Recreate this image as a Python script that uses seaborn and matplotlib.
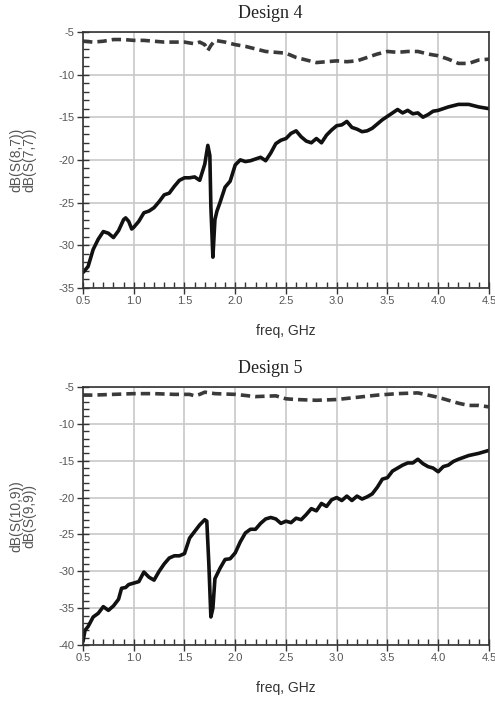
import numpy as np
import pandas as pd
import matplotlib
matplotlib.use("Agg")
import matplotlib.pyplot as plt
from matplotlib.ticker import MultipleLocator, FormatStrFormatter
import seaborn as sns

# Design 4: S(8,7) solid, S(7,7) dashed
d4_freq_s87 = [0.5, 0.55, 0.6, 0.65, 0.7, 0.75, 0.8, 0.85, 0.9, 0.92, 0.95, 0.98, 1.0, 1.05, 1.1,
               1.15, 1.2, 1.25, 1.3, 1.35, 1.4, 1.45, 1.5, 1.55, 1.6, 1.65, 1.7, 1.73, 1.75, 1.76,
               1.78, 1.8, 1.82, 1.85, 1.9, 1.95, 2.0, 2.05, 2.1, 2.15, 2.2, 2.25, 2.3, 2.35, 2.4,
               2.45, 2.5, 2.55, 2.6, 2.65, 2.7, 2.75, 2.8, 2.85, 2.9, 2.95, 3.0, 3.05, 3.1, 3.15,
               3.2, 3.25, 3.3, 3.35, 3.4, 3.45, 3.5, 3.55, 3.6, 3.65, 3.7, 3.75, 3.8, 3.85, 3.9,
               3.95, 4.0, 4.1, 4.2, 4.3, 4.4, 4.5]
d4_s87 = [-33.2, -32.5, -30.5, -29.3, -28.4, -28.6, -29.1, -28.3, -27.0, -26.8, -27.2, -28.1, -27.9,
          -27.2, -26.2, -26.0, -25.6, -24.9, -24.1, -23.9, -23.1, -22.4, -22.1, -22.1, -22.0, -22.4,
          -20.5, -18.3, -19.5, -25.5, -31.4, -27.0, -26.0, -25.0, -23.2, -22.5, -20.6, -20.0, -20.2,
          -20.1, -19.9, -19.7, -20.1, -19.2, -18.1, -17.7, -17.5, -16.9, -16.6, -17.3, -17.8, -18.0,
          -17.5, -18.0, -17.1, -16.5, -16.0, -15.9, -15.5, -16.2, -16.4, -16.7, -16.6, -16.3, -15.8,
          -15.3, -14.9, -14.5, -14.1, -14.5, -14.2, -14.6, -14.5, -15.0, -14.7, -14.3, -14.2, -13.8,
          -13.5, -13.5, -13.8, -14.0]
d4_freq_s77 = [0.5, 0.6, 0.7, 0.8, 0.9, 1.0, 1.1, 1.2, 1.3, 1.4, 1.5, 1.6, 1.65, 1.7, 1.73, 1.76,
               1.8, 1.9, 2.0, 2.1, 2.2, 2.3, 2.4, 2.5, 2.6, 2.7, 2.8, 2.9, 3.0, 3.1, 3.2, 3.3, 3.4,
               3.5, 3.6, 3.7, 3.8, 3.9, 4.0, 4.1, 4.2, 4.3, 4.4, 4.5]
d4_s77 = [-6.1, -6.2, -6.1, -5.9, -5.9, -6.0, -6.0, -6.1, -6.2, -6.2, -6.2, -6.4, -6.2, -6.5, -7.2,
          -6.6, -6.0, -6.2, -6.5, -6.7, -7.0, -7.3, -7.4, -7.5, -8.0, -8.3, -8.6, -8.5, -8.4, -8.5,
          -8.4, -8.0, -7.6, -7.3, -7.4, -7.3, -7.3, -7.6, -7.8, -8.2, -8.7, -8.7, -8.3, -8.2]

# Design 5: S(10,9) solid, S(9,9) dashed
d5_freq_s109 = [0.5, 0.52, 0.55, 0.6, 0.65, 0.7, 0.75, 0.8, 0.85, 0.88, 0.92, 0.95, 1.0, 1.05, 1.1,
                1.15, 1.2, 1.25, 1.3, 1.35, 1.4, 1.45, 1.5, 1.55, 1.6, 1.65, 1.7, 1.72, 1.74, 1.76,
                1.78, 1.8, 1.85, 1.9, 1.95, 2.0, 2.05, 2.1, 2.15, 2.2, 2.25, 2.3, 2.35, 2.4, 2.45,
                2.5, 2.55, 2.6, 2.65, 2.7, 2.75, 2.8, 2.85, 2.9, 2.95, 3.0, 3.05, 3.1, 3.15, 3.2,
                3.25, 3.3, 3.35, 3.4, 3.45, 3.5, 3.55, 3.6, 3.65, 3.7, 3.75, 3.8, 3.85, 3.9, 3.95,
                4.0, 4.05, 4.1, 4.15, 4.2, 4.3, 4.4, 4.45, 4.5]
d5_s109 = [-39.5, -38.0, -37.5, -36.2, -35.7, -34.8, -35.3, -34.7, -33.8, -32.3, -32.2, -31.8, -31.6,
           -31.4, -30.1, -30.8, -31.2, -30.0, -29.0, -28.2, -27.9, -27.9, -27.6, -25.5, -24.6, -23.7,
           -23.0, -23.2, -29.0, -36.2, -35.0, -31.0, -29.6, -28.4, -28.3, -27.5, -26.0, -24.8, -24.3,
           -24.3, -23.5, -22.9, -22.7, -22.9, -23.5, -23.2, -23.4, -22.8, -23.0, -22.3, -21.5, -21.8,
           -20.8, -21.2, -20.3, -20.0, -20.4, -19.8, -20.4, -19.8, -20.2, -19.9, -19.5, -18.6, -17.5,
           -17.3, -16.4, -16.0, -15.6, -15.3, -15.3, -14.8, -15.4, -15.8, -16.0, -16.5, -15.8, -15.6,
           -15.1, -14.8, -14.3, -14.0, -13.8, -13.6]
d5_freq_s99 = [0.5, 0.6, 0.8, 1.0, 1.2, 1.4, 1.55, 1.6, 1.65, 1.7, 1.8, 2.0, 2.2, 2.4, 2.5, 2.6,
               2.8, 3.0, 3.2, 3.4, 3.6, 3.8, 3.9, 4.0, 4.1, 4.2, 4.3, 4.4, 4.5]
d5_s99 = [-6.1, -6.1, -6.0, -5.9, -5.9, -6.0, -6.0, -6.2, -6.0, -5.7, -5.9, -6.0, -6.3, -6.2, -6.6,
          -6.7, -6.8, -6.7, -6.4, -6.1, -5.9, -5.8, -6.1, -6.4, -6.8, -7.2, -7.5, -7.5, -7.7]

panels = [
    ("Design 4", d4_freq_s87, d4_s87, d4_freq_s77, d4_s77, "dB(S(8,7))\ndB(S(7,7))", -35, [0.5905, 0.3642]),
    ("Design 5", d5_freq_s109, d5_s109, d5_freq_s99, d5_s99, "dB(S(10,9))\ndB(S(9,9))", -40, [0.0825, 0.367]),
]

sns.set_style("white")
plt.rcParams["font.family"] = ["Liberation Sans", "DejaVu Sans"]
plt.rcParams["axes.unicode_minus"] = False

fig = plt.figure(figsize=(4.95, 7.03), dpi=100)

for title, fs, ys, fr, yr, ylab, ymin, (bottom, height) in panels:
    ax = fig.add_axes([0.1677, bottom, 0.820, height])
    sns.lineplot(x=fs, y=ys, ax=ax, color="#111111", lw=2.6, sort=False)
    sns.lineplot(x=fr, y=yr, ax=ax, color="#3a3a3a", lw=2.6, sort=False, linestyle=(0, (2.6, 1.4)))
    ax.set_xlim(0.5, 4.5)
    ax.set_ylim(ymin, -5)
    ax.xaxis.set_major_locator(MultipleLocator(0.5))
    ax.xaxis.set_minor_locator(MultipleLocator(0.1))
    ax.yaxis.set_major_locator(MultipleLocator(5))
    ax.yaxis.set_minor_locator(MultipleLocator(1))
    ax.xaxis.set_major_formatter(FormatStrFormatter("%.1f"))
    ax.grid(True, which="major", color="#c8c8c8", lw=1.2)
    ax.tick_params(which="major", direction="inout", length=8, width=1.0, color="#333333",
                   labelsize=8, labelcolor="#555555", pad=2)
    ax.tick_params(which="minor", direction="in", length=4, width=1.0, color="#333333")
    ax.tick_params(axis="x", which="both", bottom=True)
    ax.tick_params(axis="y", which="both", left=True)
    for s in ax.spines.values():
        s.set_color("#333333")
        s.set_linewidth(1.2)
    ax.set_xlabel("freq, GHz", fontsize=10, color="#333333", labelpad=13)
    ax.set_ylabel(ylab, fontsize=10, color="#555555", labelpad=16, linespacing=0.9)
    fig.text(270 / 495, bottom + height + 0.026, title, ha="center", va="center",
             fontsize=13, family="Liberation Serif", color="#222222")

fig.savefig("out.png", dpi=100)
